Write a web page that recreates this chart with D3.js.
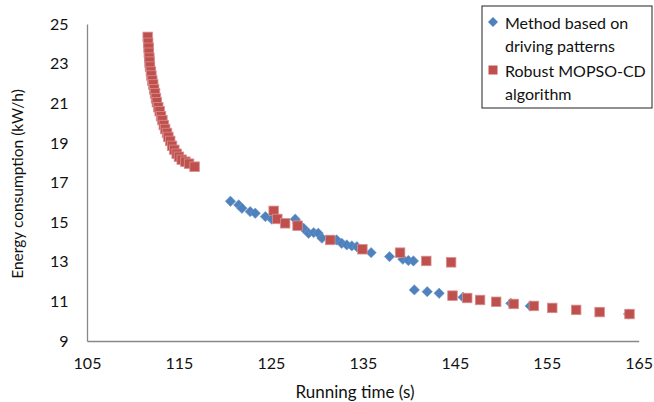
<!DOCTYPE html>
<html>
<head>
<meta charset="utf-8">
<script src="https://cdn.jsdelivr.net/npm/d3@7"></script>
<style>
  html, body { margin: 0; padding: 0; background: #fff; }
  svg { display: block; font-family: Lato, "Open Sans", sans-serif; }
</style>
</head>
<body>
<svg id="chart" width="654" height="402"></svg>
<script>
// Running time (s) and energy consumption (kW/h) for the two approaches
const drivingTime = [111.7, 111.85,
  120.6, 121.5, 121.85, 122.75, 123.3, 124.4, 125.1, 127.65, 127.9, 128.55, 129.1,
  129.65, 130.15, 130.55, 132.15, 132.7, 133.25, 133.8, 134.35, 135.9, 137.9, 139.35,
  139.95, 140.5, 140.6, 142.0, 143.3, 145.9, 151.1, 153.2, 163.9];
const drivingEnergy = [24.0, 22.8,
  16.05, 15.87, 15.7, 15.53, 15.45, 15.28, 15.15, 15.15, 14.94, 14.69, 14.44,
  14.47, 14.44, 14.19, 14.1, 13.93, 13.85, 13.8, 13.76, 13.46, 13.26, 13.13,
  13.06, 13.04, 11.58, 11.49, 11.41, 11.21, 10.9, 10.77, 10.36];

const mopsoTime = [111.6, 111.65, 111.7, 111.72, 111.78, 111.8, 111.85, 111.95, 112.0,
  112.1, 112.2, 112.3, 112.4, 112.5, 112.6, 112.75, 112.9, 113.05, 113.2, 113.35, 113.5,
  113.7, 113.85, 114.05, 114.25, 114.5, 114.75, 115.0, 115.3, 115.7, 116.1, 116.7,
  125.3, 125.7, 126.55, 127.9, 131.45, 134.95, 139.05, 141.9, 144.6,
  144.75, 146.35, 147.75, 149.5, 151.4, 153.6, 155.6, 158.2, 160.75, 164.0];
const mopsoEnergy = [24.35, 24.05, 23.8, 23.55, 23.3, 23.1, 22.85, 22.6, 22.4,
  22.15, 21.95, 21.7, 21.5, 21.25, 21.05, 20.8, 20.6, 20.35, 20.15, 19.9, 19.7,
  19.5, 19.3, 19.1, 18.85, 18.65, 18.45, 18.3, 18.15, 18.05, 17.95, 17.8,
  15.57, 15.16, 14.94, 14.82, 14.1, 13.63, 13.46, 13.04, 12.97,
  11.29, 11.17, 11.07, 10.98, 10.87, 10.77, 10.67, 10.57, 10.46, 10.36];

const xTicks = [105, 115, 125, 135, 145, 155, 165];
const yTicks = [9, 11, 13, 15, 17, 19, 21, 23, 25];

const BLUE = "#4F81BD", RED = "#C0504D", AXIS = "#888888";

const svg = d3.select("#chart");
const x = d3.scaleLinear().domain([105, 165]).range([87, 638.7]);
const y = d3.scaleLinear().domain([9, 25]).range([341, 24]);

// Axes (no tick marks, grey axis lines)
const gx = svg.append("g").attr("transform", `translate(0,${y(9)})`)
  .call(d3.axisBottom(x).tickValues(xTicks).tickSize(0).tickPadding(17).tickFormat(d3.format("d")));
const gy = svg.append("g").attr("transform", `translate(${x(105)},0)`)
  .call(d3.axisLeft(y).tickValues(yTicks).tickSize(0).tickPadding(18.5).tickFormat(d3.format("d")));
[gx, gy].forEach(g => {
  g.select(".domain").attr("stroke", AXIS).attr("stroke-width", 1.3);
  g.selectAll("text").attr("font-size", 16).attr("fill", "#111")
    .attr("font-family", "Lato, 'Open Sans', sans-serif");
});

// Axis titles
svg.append("text").attr("x", 355).attr("y", 398).attr("text-anchor", "middle")
  .attr("font-size", 17).attr("fill", "#111").text("Running time (s)");
svg.append("text").attr("transform", "translate(23,184) rotate(-90)")
  .attr("text-anchor", "middle").attr("font-size", 15.5).attr("fill", "#111")
  .text("Energy consumption (kW/h)");

// Markers
const diamond = s => `M0,${-s}L${s},0L0,${s}L${-s},0Z`;
const drivingPts = drivingTime.map((t, i) => [t, drivingEnergy[i]]);
const mopsoPts = mopsoTime.map((t, i) => [t, mopsoEnergy[i]]);

svg.append("g").selectAll("path").data(drivingPts).join("path")
  .attr("transform", d => `translate(${x(d[0])},${y(d[1])})`)
  .attr("d", diamond(5.2))
  .attr("fill", BLUE).attr("stroke", "#6f98cc").attr("stroke-width", 0.6);

const sq = 9.5;
svg.append("g").selectAll("rect").data(mopsoPts).join("rect")
  .attr("x", d => x(d[0]) - sq / 2).attr("y", d => y(d[1]) - sq / 2)
  .attr("width", sq).attr("height", sq)
  .attr("fill", RED).attr("stroke", "#d58f8d").attr("stroke-width", 0.8);

// Legend
const lg = svg.append("g");
lg.append("rect").attr("x", 482).attr("y", 6).attr("width", 170).attr("height", 102)
  .attr("fill", "#fff").attr("stroke", "#222").attr("stroke-width", 1);
const legendLines = [
  ["Method based on", "driving patterns"],
  ["Robust MOPSO-CD", "algorithm"]
];
const legendY = [23, 71];
lg.append("path").attr("transform", `translate(493,${legendY[0] - 1})`)
  .attr("d", diamond(5)).attr("fill", BLUE);
lg.append("rect").attr("x", 488.5).attr("y", legendY[1] - 5.5).attr("width", 9).attr("height", 9)
  .attr("fill", RED);
legendLines.forEach((lines, i) => {
  lines.forEach((t, j) => {
    lg.append("text").attr("x", 505).attr("y", legendY[i] + j * 23 + 6)
      .attr("font-size", 16).attr("fill", "#111").text(t);
  });
});
</script>
</body>
</html>
